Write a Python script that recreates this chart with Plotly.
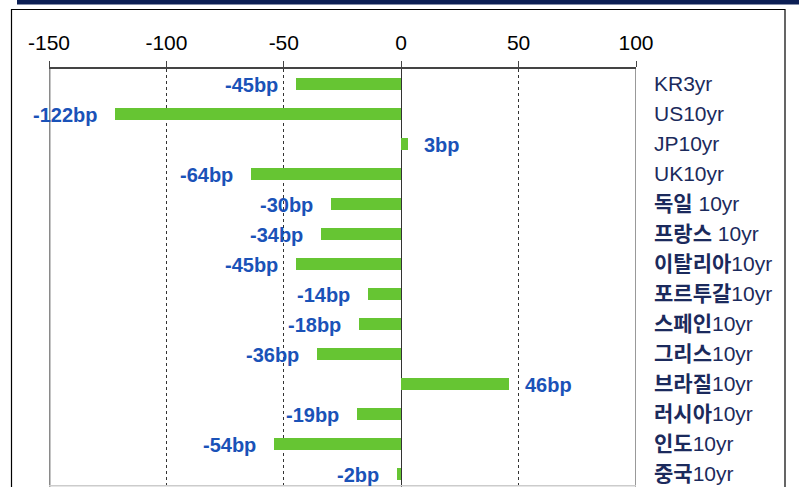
import plotly.graph_objects as go

categories = ["KR3yr", "US10yr", "JP10yr", "UK10yr", "<b>독일</b> 10yr", "<b>프랑스</b> 10yr",
              "<b>이탈리아</b>10yr", "<b>포르투갈</b>10yr", "<b>스페인</b>10yr", "<b>그리스</b>10yr",
              "<b>브라질</b>10yr", "<b>러시아</b>10yr", "<b>인도</b>10yr", "<b>중국</b>10yr"]
values = [-45, -122, 3, -64, -30, -34, -45, -14, -18, -36, 46, -19, -54, -2]
x_ticks = [-150, -100, -50, 0, 50, 100]
x_tick_text = ["-150", "-100", "-50", "0", "50", "100"]

FONT = "Liberation Sans, Arial, Noto Sans CJK KR, sans-serif"
W, H = 799, 487
L, R, T, B = 49, 163, 69, 0
ph = H - T - B
idx = list(range(len(categories)))

fig = go.Figure()
fig.add_trace(go.Bar(
    x=values, y=idx, orientation="h", width=0.4,
    marker=dict(color="#66c533", line=dict(width=0)),
    hoverinfo="skip", showlegend=False,
))

for i, v in zip(idx, values):
    fig.add_annotation(
        x=v, y=i, xref="x", yref="y", text=f"<b>{v}bp</b>", showarrow=False,
        xanchor="right" if v < 0 else "left", xshift=-16 if v < 0 else 14, yshift=-1,
        font=dict(family=FONT, size=20, color="#1a52b8"),
    )

# plot band: 30px per row
rows_bottom = -0.5 + ph / 30.0
fig.update_layout(
    width=W, height=H, margin=dict(l=L, r=R, t=T, b=B, pad=0, autoexpand=False),
    plot_bgcolor="white", paper_bgcolor="white", bargap=0,
    font=dict(family=FONT, size=20, color="black"),
    xaxis=dict(
        side="top", range=[-150, 100], tickvals=x_ticks, ticktext=x_tick_text,
        ticks="outside", ticklen=6, automargin=False,
        tickcolor="#444", tickwidth=1, showline=True, linecolor="#444", linewidth=1.5,
        showgrid=True, gridcolor="#333", griddash="dot", gridwidth=1,
        zeroline=True, zerolinecolor="#333", zerolinewidth=1.2,
        tickfont=dict(size=21, color="black"), ticklabelstandoff=3, fixedrange=True,
    ),
    yaxis=dict(
        side="right", range=[rows_bottom, -0.5], tickvals=idx, ticktext=categories,
        showgrid=False, zeroline=False, showline=False, ticks="", automargin=False,
        tickfont=dict(size=21, color="#1b2a5c"), ticklabelstandoff=17, fixedrange=True,
    ),
)

# plot edges
fig.add_shape(type="line", xref="x", yref="paper", x0=-150, x1=-150, y0=0, y1=1,
              line=dict(color="#8a8a8a", width=3))
fig.add_shape(type="line", xref="x", yref="paper", x0=100, x1=100, y0=0, y1=1,
              line=dict(color="#999999", width=2))
fig.add_shape(type="line", xref="paper", yref="paper", x0=0, x1=1, y0=0.003, y1=0.003,
              line=dict(color="#cccccc", width=1.5))
# outer frame
def px_x(p):
    return (p - L) / (W - L - R)
def px_y(p):
    return 1 + (T - p) / ph
fig.add_shape(type="rect", xref="paper", yref="paper",
              x0=px_x(11.5), x1=px_x(785), y0=px_y(500), y1=px_y(9.5),
              line=dict(color="black", width=1.2), fillcolor="rgba(0,0,0,0)", layer="below")
fig.add_shape(type="rect", xref="paper", yref="paper",
              x0=px_x(17), x1=px_x(805), y0=px_y(4.5), y1=px_y(-2),
              line=dict(width=0), fillcolor="#0c1f55")

fig.write_html("out.html", config={"displayModeBar": False},
               post_script="document.body.style.margin='0';document.body.style.overflow='hidden';")
